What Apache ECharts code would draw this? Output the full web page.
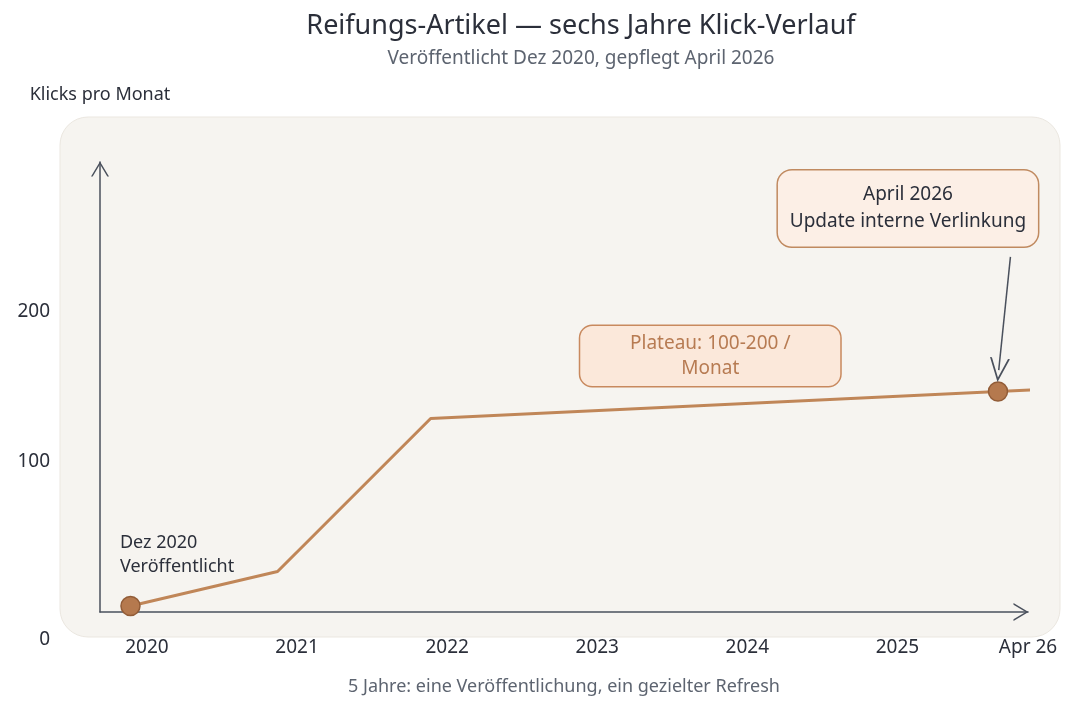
<!DOCTYPE html>
<html>
<head>
<meta charset="utf-8">
<script src="https://cdn.jsdelivr.net/npm/echarts@6/dist/echarts.min.js"></script>
<style>
  html, body { margin: 0; padding: 0; background: #ffffff; }
  #chart { width: 1072px; height: 712px; }
</style>
</head>
<body>
<div id="chart"></div>
<script>
// Zeitachse in Jahren (Dezimal), Werte = Klicks pro Monat
const timeX = [2019.89, 2020.87, 2021.89, 2025.67, 2025.89]
const clicks = [4, 27, 129, 147, 148]
const milestoneIdx = [0, 3] // Veröffentlichung + Refresh

const tickValues = [2020, 2021, 2022, 2023, 2024, 2025, 2025.87]
const tickLabels = ['2020', '2021', '2022', '2023', '2024', '2025', 'Apr 26']
const yTicks = [0, 100, 200]

const FONT = 'Noto Sans'
const DARK = '#2b2f3a'
const GREY = '#5d6470'
const AXIS = '#4a505c'
const LINE = '#c08658'

// offene Pfeilspitze für die Achsen
const chevron = 'path://M0,15 L9,0 L18,15 L16.3,15 L9,2.8 L1.7,15 Z'

const chart = echarts.init(document.getElementById('chart'))

const lineData = timeX.map((x, i) => {
  const isMs = milestoneIdx.includes(i)
  return {
    value: [x, clicks[i]],
    symbol: isMs ? 'circle' : 'none',
    symbolSize: isMs ? 19 : 0
  }
})

const hidden = { color: 'rgba(0,0,0,0)' }

const option = {
  backgroundColor: '#ffffff',
  title: {
    text: 'Reifungs-Artikel — sechs Jahre Klick-Verlauf',
    subtext: 'Veröffentlicht Dez 2020, gepflegt April 2026',
    left: 576,
    textAlign: 'center',
    top: 8,
    itemGap: 9,
    textStyle: { fontFamily: FONT, fontSize: 27, fontWeight: 'normal', color: DARK },
    subtextStyle: { fontFamily: FONT, fontSize: 19, color: GREY }
  },
  graphic: [{
    type: 'rect',
    z: -10,
    shape: { x: 60, y: 117, width: 1000, height: 520, r: 28 },
    style: { fill: '#f6f4f0', stroke: '#ebe7e0', lineWidth: 1 }
  }],
  grid: { left: 100, right: 44, top: 162, bottom: 100 },
  xAxis: {
    type: 'value',
    min: 2019.687,
    max: 2025.87,
    name: '5 Jahre: eine Veröffentlichung, ein gezielter Refresh',
    nameLocation: 'middle',
    nameGap: 66,
    nameTextStyle: { fontFamily: FONT, fontSize: 18, color: GREY },
    splitLine: { show: false },
    axisTick: { show: false },
    axisLine: {
      lineStyle: { color: AXIS, width: 1.5 },
      symbol: ['none', chevron],
      symbolSize: [18, 15],
      symbolOffset: [0, -7]
    },
    axisLabel: {
      customValues: tickValues,
      margin: 26,
      fontFamily: FONT,
      fontSize: 19,
      color: DARK,
      formatter: v => tickLabels[tickValues.indexOf(v)] ?? ''
    }
  },
  yAxis: {
    type: 'value',
    min: 0,
    max: 300,
    name: 'Klicks pro Monat',
    nameLocation: 'end',
    nameGap: 58,
    nameTextStyle: { fontFamily: FONT, fontSize: 18, color: DARK },
    splitLine: { show: false },
    axisTick: { show: false },
    axisLine: {
      show: true,
      lineStyle: { color: AXIS, width: 1.5 },
      symbol: ['none', chevron],
      symbolSize: [18, 15],
      symbolOffset: [0, -7]
    },
    axisLabel: {
      customValues: yTicks,
      margin: 50,
      fontFamily: FONT,
      fontSize: 19,
      color: DARK,
      formatter: v => (v === 0 ? '{z|0}' : '{n|' + v + '}'),
      rich: {
        z: { fontFamily: FONT, fontSize: 19, color: DARK, padding: [56, 0, 0, 0] },
        n: { fontFamily: FONT, fontSize: 19, color: DARK }
      }
    }
  },
  series: [{
    type: 'line',
    clip: false,
    data: lineData,
    lineStyle: { color: LINE, width: 3 },
    itemStyle: { color: '#b5794e', borderColor: '#925c37', borderWidth: 1.5 },
    emphasis: { disabled: true },
    markLine: {
      silent: true,
      symbol: ['none', chevron],
      symbolSize: [20, 24],
      lineStyle: { color: AXIS, width: 1.5, type: 'solid' },
      label: { show: false },
      data: [[
        { coord: [2025.753, 236.7] },
        { coord: [2025.675, 161.3] }
      ]]
    },
    markPoint: {
      silent: true,
      symbol: 'circle',
      symbolSize: 1,
      itemStyle: hidden,
      data: [
        {
          coord: [2025.07, 269],
          label: {
            show: true,
            position: 'inside',
            formatter: 'April 2026\nUpdate interne Verlinkung',
            fontFamily: FONT,
            fontSize: 19,
            lineHeight: 27,
            color: DARK,
            width: 244,
            align: 'center',
            backgroundColor: '#fcefe6',
            borderColor: '#c08a60',
            borderWidth: 1.5,
            borderRadius: 14,
            padding: [11, 8, 11, 8]
          }
        },
        {
          coord: [2023.753, 170.7],
          label: {
            show: true,
            position: 'inside',
            formatter: 'Plateau: 100-200 /\nMonat',
            fontFamily: FONT,
            fontSize: 19,
            lineHeight: 25,
            color: '#b77b52',
            width: 244,
            align: 'center',
            backgroundColor: '#fbe8da',
            borderColor: '#c8895e',
            borderWidth: 1.5,
            borderRadius: 12,
            padding: [5, 8, 5, 8]
          }
        },
        {
          coord: [2019.82, 38],
          label: {
            show: true,
            position: 'inside',
            formatter: 'Dez 2020\nVeröffentlicht',
            fontFamily: FONT,
            fontSize: 18,
            lineHeight: 24,
            color: DARK,
            align: 'left'
          }
        }
      ]
    }
  }]
}

chart.setOption(option)
</script>
</body>
</html>
